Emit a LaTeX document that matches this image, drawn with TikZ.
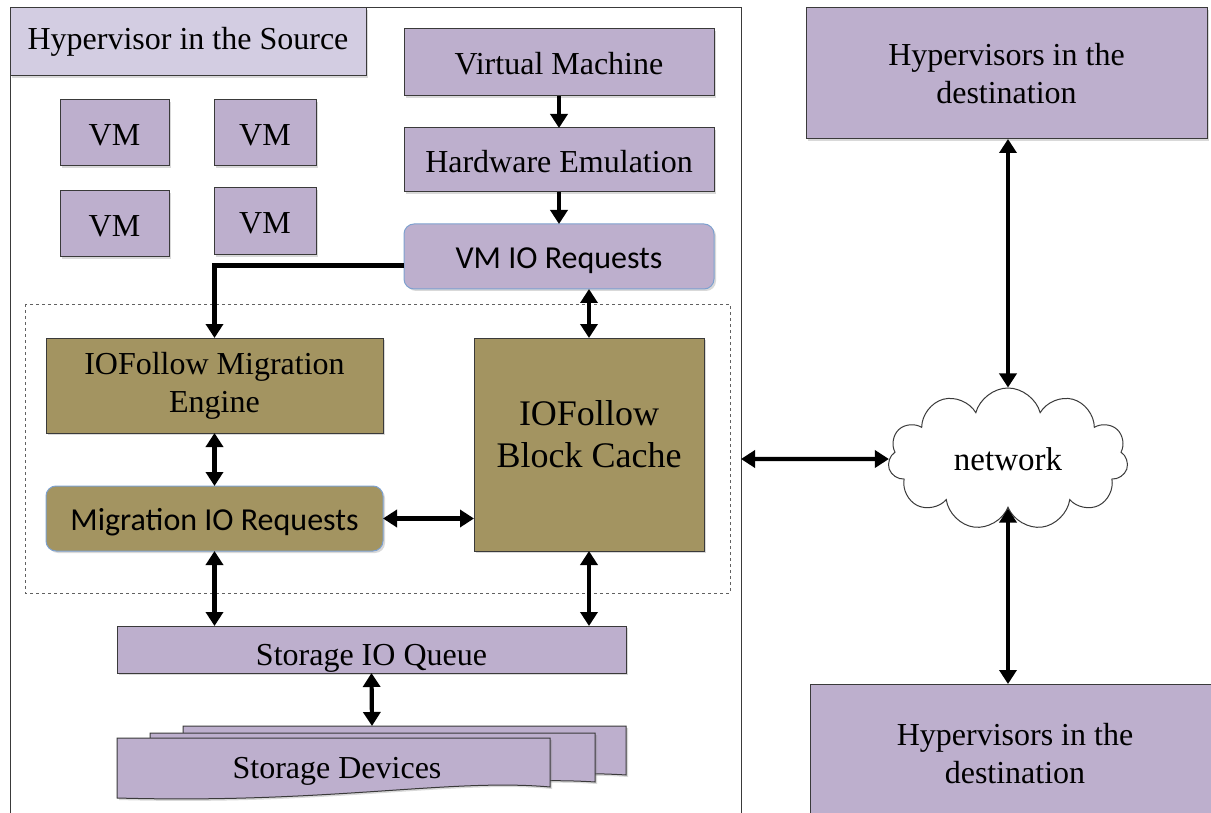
\documentclass[tikz,border=0pt]{standalone}
\usepackage{fontspec}
\setmainfont{Liberation Serif}
\newfontfamily\calfont{Carlito}
\usetikzlibrary{shapes.symbols,arrows.meta,shadows,calc}
\definecolor{lav}{HTML}{BDAFCD}
\definecolor{lavlight}{HTML}{D3CDE2}
\definecolor{olive}{HTML}{A39461}
\definecolor{edgeblue}{HTML}{7EA1CF}
\definecolor{edgedark}{HTML}{3A3A3A}
\tikzset{
  shade/.style={drop shadow={shadow xshift=2pt,shadow yshift=-2pt,opacity=0.3}},
  box/.style={draw=edgedark, line width=1pt, anchor=north west, inner sep=0pt,
    outer sep=0pt, align=center, font=\fontsize{32}{38}\selectfont, shade},
  oneline/.style={text height=25pt, text depth=0pt},
  lavbox/.style={box, fill=lav},
  olivebox/.style={box, fill=olive},
  reqbox/.style={box, rounded corners=10pt, draw=edgeblue, font=\calfont\fontsize{32}{38}\selectfont,
    text height=24pt, text depth=0pt},
  docshape/.style={fill=lav, draw=edgedark, line width=1pt, shade},
  arr/.style={line width=4.2pt, -{Triangle[length=14pt,width=17pt]}},
  darr/.style={line width=4.2pt, {Triangle[length=14pt,width=17pt]}-{Triangle[length=14pt,width=17pt]}},
}
\begin{document}
\begin{tikzpicture}[x=1pt,y=-1pt]
\useasboundingbox (0,0) rectangle (1211,813);
\clip (0,0) rectangle (1211,813);

% source hypervisor frame
\draw[draw=edgedark, line width=1pt] (10,830) -- (10,8) -- (741,8) -- (741,830);
\coordinate (srcedge) at (741,459);
\node[box, fill=lavlight, minimum width=356pt, minimum height=68pt] (title) at (10,8) {Hypervisor in the Source};

% guest VMs
\node[lavbox, oneline, minimum width=109pt, minimum height=66pt] (vm1) at (60,100) {VM};
\node[lavbox, oneline, minimum width=102pt, minimum height=66pt] (vm2) at (214,100) {VM};
\node[lavbox, oneline, minimum width=109pt, minimum height=66pt] (vm3) at (60,191) {VM};
\node[lavbox, oneline, minimum width=102pt, minimum height=67pt] (vm4) at (214,188) {VM};

% VM stack
\node[lavbox, oneline, minimum width=310pt, minimum height=67pt] (vm) at (404,29) {Virtual Machine};
\node[lavbox, oneline, minimum width=310pt, minimum height=64pt] (hw) at (404,128) {Hardware Emulation};
\node[reqbox, fill=lav, minimum width=310pt, minimum height=65pt] (vmio) at (404,224) {VM IO Requests};

% IOFollow components
\draw[dashed, draw=edgedark!80, line width=0.6pt] (25,304) rectangle (730,593);
\node[olivebox, minimum width=337pt, minimum height=95pt] (engine) at (46,338) {IOFollow Migration\\Engine};
\node[olivebox, minimum width=230pt, minimum height=213pt] (cache) at (474,338) {};
\node[align=center, font=\fontsize{36}{42}\selectfont] (cachetext) at (589,434) {IOFollow\\Block Cache};
\node[reqbox, fill=olive, minimum width=337pt, minimum height=65pt] (migio) at (46,486) {Migration IO Requests};

% storage
\node[lavbox, text height=31pt, text depth=0pt, minimum width=509pt, minimum height=47pt] (queue) at (117,626) {Storage IO Queue};
\path[docshape] (183,726) -- (626,726) -- (626,775) .. controls (520,768) and (400,792) .. (183,786) -- cycle;
\path[docshape] (150,733) -- (595,733) -- (595,782) .. controls (490,775) and (370,799) .. (150,793) -- cycle;
\path[docshape] (117,738) -- (550,738) -- (550,787) .. controls (450,778) and (330,804) .. (117,798) -- cycle;
\node[font=\fontsize{32}{38}\selectfont] (dev) at (337,771) {Storage Devices};
\coordinate (devtop) at (372,726);

% destination side
\node[lavbox, minimum width=401pt, minimum height=131pt] (dst1) at (806,8) {Hypervisors in the\\destination};
\node[lavbox, minimum width=410pt, minimum height=140pt] (dst2) at (810,684) {Hypervisors in the\\destination};
\node[cloud, cloud puffs=11, cloud ignores aspect, draw=edgedark, line width=1pt, fill=white,
      minimum width=240pt, minimum height=142pt, inner sep=0pt, font=\fontsize{33}{38}\selectfont] (net) at (1008,459) {network};

% connectors
\draw[arr] (vm) -- (hw);
\draw[arr] (hw) -- (vmio);
\draw[line width=5pt, -{Triangle[length=14pt,width=17pt]}] ($(vmio.west)+(0,9)$) -| (engine.north);
\draw[darr] (vmio.south -| cache.north) -- (cache.north);
\draw[darr] (engine) -- (migio);
\draw[darr] (migio.east) -- (migio.east -| cache.west);
\draw[darr] (migio.south) -- (migio.south |- queue.north);
\draw[darr] (cache.south) -- (cache.south |- queue.north);
\draw[darr] (queue.south) -- (devtop);
\draw[darr] (srcedge) -- (net.west);
\draw[darr] (dst1.south -| net.north) -- (net.north);
\draw[darr] (net.south) -- (net.south |- dst2.north);
\end{tikzpicture}
\end{document}
